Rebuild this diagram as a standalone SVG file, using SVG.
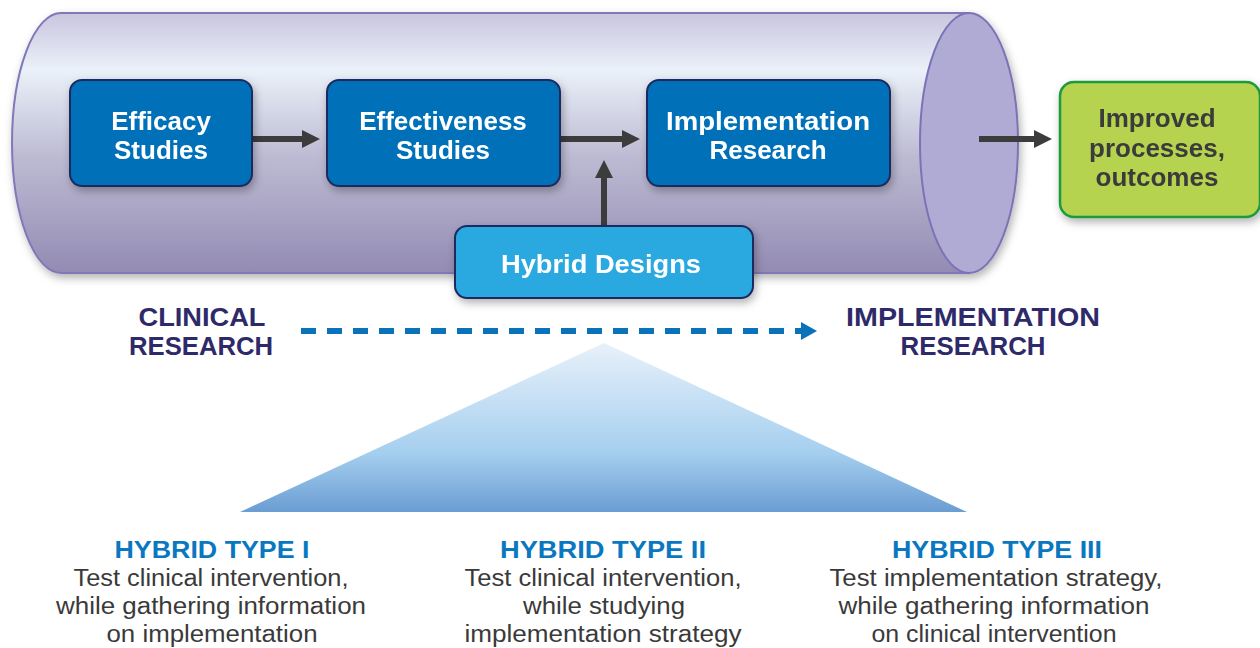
<svg xmlns="http://www.w3.org/2000/svg" width="1260" height="648" viewBox="0 0 1260 648">
<defs>
<linearGradient id="body" x1="0" y1="0" x2="0" y2="1">
<stop offset="0" stop-color="#c9c5de"/>
<stop offset="0.22" stop-color="#eaf1f9"/>
<stop offset="0.55" stop-color="#bdbbd3"/>
<stop offset="1" stop-color="#938bb3"/>
</linearGradient>
<linearGradient id="tri" x1="0" y1="0" x2="0" y2="1">
<stop offset="0" stop-color="#e8f1fa"/>
<stop offset="0.65" stop-color="#a5cfef"/>
<stop offset="1" stop-color="#6a9dd3"/>
</linearGradient>
<filter id="sh" x="-10%" y="-10%" width="125%" height="130%">
<feDropShadow dx="2" dy="4" stdDeviation="4" flood-color="#000" flood-opacity="0.3"/>
</filter>
<style>
.box{fill:#0070b9;stroke:#1f2a5e;stroke-width:2}
.wt{fill:#fff;font-family:"Liberation Sans",Arial,sans-serif;font-weight:bold;font-size:26px;text-anchor:middle}
.conn{stroke:#3c3c3c;stroke-width:6;fill:none}
.head{fill:#3c3c3c}
.lab{fill:#2e2a6a;font-family:"Liberation Sans",Arial,sans-serif;font-weight:bold;font-size:25px;text-anchor:middle}
.ht{fill:#0a78c0;font-family:"Liberation Sans",Arial,sans-serif;font-weight:bold;font-size:24px;text-anchor:middle}
.dt{fill:#3a3a3a;font-family:"Liberation Sans",Arial,sans-serif;font-size:23px;text-anchor:middle}
</style>
</defs>

<g id="cylinder" filter="url(#sh)">
<path d="M61,13 H969 V273 H61 A49,130 0 0 1 61,13 Z" fill="url(#body)" stroke="#8078b8" stroke-width="2"/>
<ellipse cx="969" cy="143" rx="49" ry="130" fill="#b0abd4" stroke="#7d72b6" stroke-width="2"/>
</g>

<g id="connectors">
<line class="conn" x1="252" y1="139" x2="303" y2="139"/>
<polygon class="head" points="302,130 320,139 302,148"/>
<line class="conn" x1="560" y1="139" x2="623" y2="139"/>
<polygon class="head" points="622,130 640,139 622,148"/>
<line class="conn" x1="604" y1="226" x2="604" y2="177"/>
<polygon class="head" points="595,178 604,160 613,178"/>
<line class="conn" x1="979" y1="139" x2="1035" y2="139"/>
<polygon class="head" points="1034,130 1052,139 1034,148"/>
<line x1="301" y1="331" x2="802" y2="331" stroke="#0a72b8" stroke-width="6" stroke-dasharray="15 11"/>
<polygon points="801,322 817,331 801,340" fill="#0a72b8"/>
</g>

<g id="efficacy" filter="url(#sh)">
<rect class="box" x="70" y="80" width="182" height="106" rx="12"/>
<text class="wt" x="161" y="130">Efficacy</text>
<text class="wt" x="161" y="159">Studies</text>
</g>

<g id="effectiveness" filter="url(#sh)">
<rect class="box" x="327" y="80" width="233" height="106" rx="12"/>
<text class="wt" x="443" y="130">Effectiveness</text>
<text class="wt" x="443" y="159">Studies</text>
</g>

<g id="implementation" filter="url(#sh)">
<rect class="box" x="647" y="80" width="243" height="106" rx="12"/>
<text class="wt" x="768" y="130" textLength="204" lengthAdjust="spacingAndGlyphs">Implementation</text>
<text class="wt" x="768" y="159">Research</text>
</g>

<g id="hybrid" filter="url(#sh)">
<rect x="455" y="226" width="298" height="72" rx="12" fill="#29a8e0" stroke="#1f2a5e" stroke-width="2"/>
<text class="wt" x="601" y="273" textLength="200" lengthAdjust="spacingAndGlyphs">Hybrid Designs</text>
</g>

<g id="outcomes" filter="url(#sh)">
<rect x="1060" y="82" width="200" height="135" rx="14" fill="#b5d34f" stroke="#1a9a3c" stroke-width="2.5"/>
<text class="wt" x="1157" y="127" style="fill:#3b3b3b">Improved</text>
<text class="wt" x="1157" y="157" style="fill:#3b3b3b">processes,</text>
<text class="wt" x="1157" y="186" style="fill:#3b3b3b">outcomes</text>
</g>

<g id="clinical-label">
<text class="lab" x="202" y="326" textLength="127" lengthAdjust="spacingAndGlyphs">CLINICAL</text>
<text class="lab" x="201" y="355" textLength="144" lengthAdjust="spacingAndGlyphs">RESEARCH</text>
</g>
<g id="impl-label">
<text class="lab" x="973" y="326" textLength="254" lengthAdjust="spacingAndGlyphs">IMPLEMENTATION</text>
<text class="lab" x="973" y="355" textLength="145" lengthAdjust="spacingAndGlyphs">RESEARCH</text>
</g>

<g id="triangle">
<polygon points="604,343 967,512 240,512" fill="url(#tri)"/>
</g>

<g id="type1">
<text class="ht" x="212" y="558" textLength="195" lengthAdjust="spacingAndGlyphs">HYBRID TYPE I</text>
<text class="dt" x="211" y="586" textLength="275" lengthAdjust="spacingAndGlyphs">Test clinical intervention,</text>
<text class="dt" x="211" y="614" textLength="310" lengthAdjust="spacingAndGlyphs">while gathering information</text>
<text class="dt" x="212" y="642" textLength="211" lengthAdjust="spacingAndGlyphs">on implementation</text>
</g>
<g id="type2">
<text class="ht" x="603" y="558" textLength="206" lengthAdjust="spacingAndGlyphs">HYBRID TYPE II</text>
<text class="dt" x="603" y="586" textLength="277" lengthAdjust="spacingAndGlyphs">Test clinical intervention,</text>
<text class="dt" x="604" y="614" textLength="162" lengthAdjust="spacingAndGlyphs">while studying</text>
<text class="dt" x="603" y="642" textLength="277" lengthAdjust="spacingAndGlyphs">implementation strategy</text>
</g>
<g id="type3">
<text class="ht" x="997" y="558" textLength="210" lengthAdjust="spacingAndGlyphs">HYBRID TYPE III</text>
<text class="dt" x="996" y="586" textLength="333" lengthAdjust="spacingAndGlyphs">Test implementation strategy,</text>
<text class="dt" x="994" y="614" textLength="311" lengthAdjust="spacingAndGlyphs">while gathering information</text>
<text class="dt" x="994" y="642" textLength="245" lengthAdjust="spacingAndGlyphs">on clinical intervention</text>
</g>
</svg>
